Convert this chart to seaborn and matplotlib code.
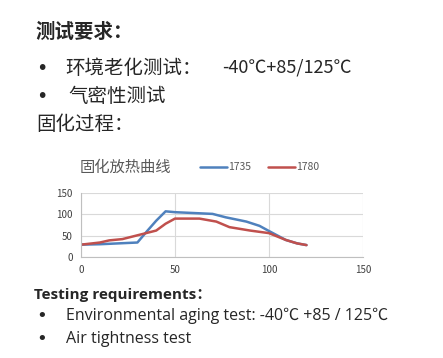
import matplotlib
matplotlib.use("Agg")
import matplotlib.pyplot as plt
import seaborn as sns
import pandas as pd

# Data
x_1735 = [0, 10, 20, 30, 35, 40, 45, 50, 60, 70, 77, 88, 95, 100, 109, 115, 120]
y_1735 = [29, 30, 32, 34, 60, 85, 107, 105, 103, 101, 93, 83, 73, 61, 40, 32, 28]
x_1780 = [0, 10, 15, 22, 31, 40, 45, 50, 63, 72, 79, 90, 100, 109, 115, 120]
y_1780 = [29, 34, 39, 42, 52, 62, 78, 90, 90, 83, 70, 62, 56, 40, 32, 28]
series_names = ["1735", "1780"]
x_ticks = [0, 50, 100, 150]
y_ticks = [0, 50, 100, 150]
chart_title = "固化放热曲线"

df = pd.concat([
    pd.DataFrame({"x": x_1735, "y": y_1735, "s": series_names[0]}),
    pd.DataFrame({"x": x_1780, "y": y_1780, "s": series_names[1]}),
])

sns.set_theme(style="white")
plt.rcParams['font.family'] = ['Noto Sans CJK SC', 'DejaVu Sans']

fig = plt.figure(figsize=(4.43, 3.58), dpi=100)
ax = fig.add_axes([0.183, 0.282, 0.636, 0.179])
palette = {"1735": "#4F81BD", "1780": "#C0504D"}
sns.lineplot(data=df, x="x", y="y", hue="s", palette=palette, ax=ax,
             linewidth=1.8, legend=False, sort=True)
ax.set_xlim(0, 150)
ax.set_ylim(0, 150)
ax.set_xticks(x_ticks)
ax.set_yticks(y_ticks)
ax.set_xlabel("")
ax.set_ylabel("")
ax.grid(True, color="#D9D9D9", linewidth=0.8)
for side in ["top", "right"]:
    ax.spines[side].set_visible(False)
for side in ["left", "bottom"]:
    ax.spines[side].set_color("#BFBFBF")
    ax.spines[side].set_linewidth(0.8)
ax.tick_params(axis="both", labelsize=7, colors="#404040", length=0, pad=6)

# chart title and legend
fig.text(80/443, 1-167/358, chart_title, fontsize=11, color="#595959", va="center", ha="left")
from matplotlib.lines import Line2D
for i, name in enumerate(series_names):
    x0 = (200 + i*68)/443
    fig.add_artist(Line2D([x0, x0 + 27/443], [1-167/358]*2, color=palette[name], lw=1.8))
    fig.text(x0 + 28/443, 1-167/358, name, fontsize=7.5, color="#595959", va="center", ha="left")

# top text
fs = 14
fig.text(36/443, 1-32/358, "测试要求：", fontsize=fs, fontweight="black", va="center", ha="left")
fig.text(36/443, 1-68/358, "•", fontsize=fs, va="center", ha="left", family=["DejaVu Sans"])
fig.text(65/443, 1-68/358, "环境老化测试：", fontsize=fs, va="center", ha="left")
fig.text(222/443, 1-68/358, "-40℃+85/125℃", fontsize=13, va="center", ha="left")
fig.text(36/443, 1-97/358, "•", fontsize=fs, va="center", ha="left", family=["DejaVu Sans"])
fig.text(68/443, 1-97/358, "气密性测试", fontsize=fs, va="center", ha="left")
fig.text(36/443, 1-124/358, "固化过程：", fontsize=fs, va="center", ha="left")

# bottom text
fb = 11.5
efam = ["Open Sans", "Noto Sans CJK SC"]
fig.text(34/443, 1-295/358, "Testing requirements：", fontsize=11, fontweight="bold", va="center", ha="left", family=efam)
fig.text(36/443, 1-316/358, "•", fontsize=13, va="center", ha="left", family=["DejaVu Sans"])
fig.text(66/443, 1-316/358, "Environmental aging test: -40℃ +85 / 125℃", fontsize=fb, va="center", ha="left", family=efam)
fig.text(36/443, 1-339/358, "•", fontsize=13, va="center", ha="left", family=["DejaVu Sans"])
fig.text(66/443, 1-339/358, "Air tightness test", fontsize=fb, va="center", ha="left", family=efam)

fig.savefig("out.png", dpi=100)
